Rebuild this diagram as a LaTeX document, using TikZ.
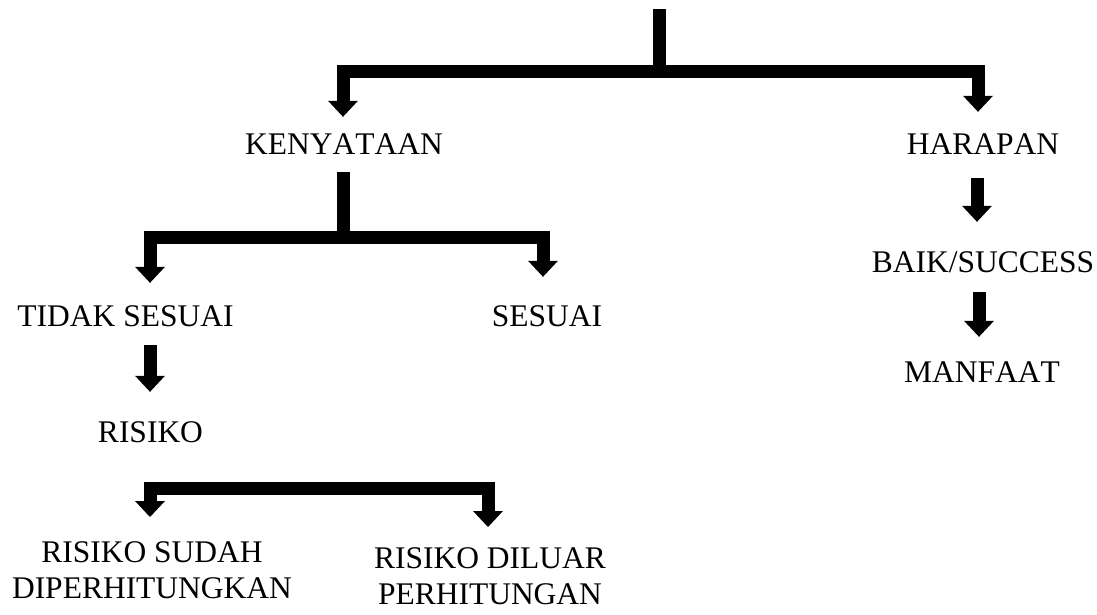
\documentclass[tikz,border=0pt]{standalone}
\usepackage{fontspec}
\setmainfont[Kerning=Off]{Liberation Serif}
\usetikzlibrary{arrows.meta}
\tikzset{
  lbl/.style={inner sep=0pt, font=\fontsize{31.5}{36}\selectfont, text height=21pt, text depth=0pt},
  lbltwo/.style={inner sep=0pt, font=\fontsize{31.5}{36}\selectfont, align=center, anchor=north},
  stem/.style={line width=13pt, line cap=butt},
  head/.tip={Triangle[width=30pt,length=16pt,line width=0pt]},
  fork/.style={line width=13pt, line cap=butt, line join=miter, head-head},
  one/.style={line width=13pt, line cap=butt, -head},
}
\begin{document}
\begin{tikzpicture}[x=1pt,y=-1pt]
\useasboundingbox (0,0) rectangle (1097,614);
% nodes
\node[lbl] (KEN) at (344,144) {KENYATAAN};
\node[lbl] (HAR) at (983,144) {HARAPAN};
\node[lbl] (TS) at (125.5,316) {TIDAK SESUAI};
\node[lbl] (SES) at (547,316) {SESUAI};
\node[lbl] (RIS) at (150.5,432) {RISIKO};
\node[lbl] (BAIK) at (983,262) {BAIK/SUCCESS};
\node[lbl] (MAN) at (982,372) {MANFAAT};
\node[lbltwo] (RSD) at (152,541) {RISIKO SUDAH\\DIPERHITUNGKAN};
\node[lbltwo] (RDP) at (490,547) {RISIKO DILUAR\\PERHITUNGAN};
% junctions
\coordinate (top) at (659.5,9);
\coordinate (j1) at (659.5,71);
\coordinate (j2) at (343.5,237);
\coordinate (j3) at (320,488);
% connectors
\draw[stem] (top) -- (j1);
\draw[fork, shorten <=16.5pt, shorten >=21.5pt] ([xshift=-1pt]KEN.north) |- (j1) -| ([xshift=-5pt]HAR.north);
\draw[stem, shorten <=17.5pt] ([xshift=-0.5pt]KEN.south) -- (j2);
\draw[fork, shorten <=22.5pt, shorten >=28.5pt] ([xshift=24.5pt]TS.north) |- (j2) -| ([xshift=-4pt]SES.north);
\draw[one, shorten <=18.5pt, shorten >=29.5pt] ([xshift=24.5pt]TS.south) -- ([xshift=-0.5pt]RIS.north);
\draw[fork, shorten <=24pt, shorten >=20pt] ([xshift=-2pt]RSD.north) |- (j3) -| ([xshift=-2pt]RDP.north);
\draw[one, shorten <=23.5pt, shorten >=29.5pt] ([xshift=-6pt]HAR.south) -- ([xshift=-6pt]BAIK.north);
\draw[one, shorten <=19.5pt, shorten >=24.5pt] ([xshift=-4pt]BAIK.south) -- ([xshift=-3pt]MAN.north);
\end{tikzpicture}
\end{document}
